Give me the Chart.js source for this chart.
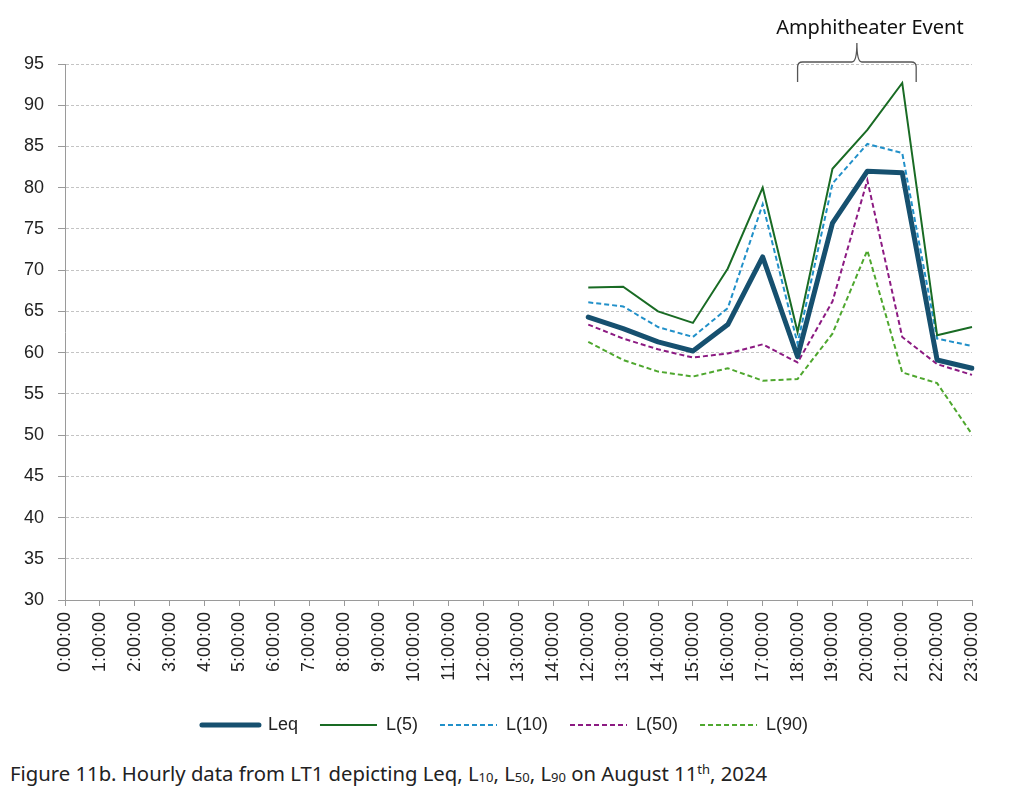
<!DOCTYPE html>
<html>
<head>
<meta charset="utf-8">
<script src="https://cdn.jsdelivr.net/npm/chart.js@4.4.1/dist/chart.umd.min.js"></script>
<style>
html, body { margin: 0; padding: 0; background: #fff; }
#wrap { position: absolute; left: 0; top: 0; width: 1030px; height: 744px; }
#caption { position: absolute; left: 10px; top: 759px; font-family: "Noto Sans"; font-size: 20.3px; color: #222; white-space: nowrap; }
#caption sub { font-size: 13px; vertical-align: -1px; }
#caption sup { font-size: 13px; vertical-align: 7px; }
</style>
</head>
<body>
<div id="wrap"><canvas id="myChart"></canvas></div>
<div id="caption">Figure 11b. Hourly data from LT1 depicting Leq, L<sub>10</sub>, L<sub>50</sub>, L<sub>90</sub> on August 11<sup>th</sup>, 2024</div>
<script>
// categories as printed on the x axis (the 12-14h labels appear twice in the original)
const hours = ['0:00:00','1:00:00','2:00:00','3:00:00','4:00:00','5:00:00','6:00:00','7:00:00',
  '8:00:00','9:00:00','10:00:00','11:00:00','12:00:00','13:00:00','14:00:00',
  '12:00:00','13:00:00','14:00:00','15:00:00','16:00:00','17:00:00','18:00:00',
  '19:00:00','20:00:00','21:00:00','22:00:00','23:00:00'];

const empty = [null,null,null,null,null,null,null,null,null,null,null,null,null,null,null];
const leq = empty.concat([64.3, 62.9, 61.3, 60.2, 63.4, 71.6, 59.5, 75.7, 82.0, 81.8, 59.1, 58.1]);
const l5  = empty.concat([67.9, 68.0, 65.0, 63.6, 70.2, 80.0, 62.5, 82.3, 87.0, 92.7, 62.1, 63.1]);
const l10 = empty.concat([66.1, 65.6, 63.1, 61.9, 65.4, 78.0, 61.1, 80.5, 85.3, 84.2, 61.7, 60.8]);
const l50 = empty.concat([63.4, 61.7, 60.4, 59.4, 59.9, 61.0, 58.8, 66.2, 80.9, 61.9, 58.6, 57.3]);
const l90 = empty.concat([61.3, 59.1, 57.7, 57.1, 58.1, 56.6, 56.8, 62.3, 72.4, 57.6, 56.3, 50.1]);

const yTicks = { min: 30, max: 95, step: 5 };

// brace + label over the amphitheater event hours
const eventNote = {
  id: 'eventNote',
  afterLayout(chart) {
    // legend in the original sits a bit right of the canvas centre
    chart.legend.left += 19;
    chart.legend.right += 19;
  },
  afterDraw(chart) {
    const c = chart.ctx;
    const x = chart.scales.x;
    const top = chart.chartArea.top;
    const step = x.getPixelForValue(22) - x.getPixelForValue(21);
    const x0 = x.getPixelForValue(21);
    const x1 = x.getPixelForValue(24) + step * 0.4;
    const mid = (x0 + x1) / 2;
    const yb = top - 2, yEnd = top + 18, yTip = top - 21;
    c.save();
    c.strokeStyle = '#555';
    c.lineWidth = 1.3;
    c.beginPath();
    c.moveTo(x0, yEnd);
    c.lineTo(x0, yb + 5);
    c.quadraticCurveTo(x0, yb, x0 + 5, yb);
    c.lineTo(mid - 5, yb);
    c.quadraticCurveTo(mid, yb, mid, yTip);
    c.quadraticCurveTo(mid, yb, mid + 5, yb);
    c.lineTo(x1 - 5, yb);
    c.quadraticCurveTo(x1, yb, x1, yb + 5);
    c.lineTo(x1, yEnd);
    c.stroke();
    c.fillStyle = '#111';
    c.font = '20px "Noto Sans"';
    c.textAlign = 'center';
    c.textBaseline = 'alphabetic';
    c.fillText('Amphitheater Event', mid + 13, top - 30);
    c.restore();
  }
};

const ctx = document.getElementById('myChart');

new Chart(ctx, {
  type: 'line',
  data: {
    labels: hours,
    datasets: [
      { label: 'Leq', data: leq, borderColor: '#16506f', borderWidth: 5, borderCapStyle: 'round', borderJoinStyle: 'round' },
      { label: 'L(5)', data: l5, borderColor: '#196b24', borderWidth: 2 },
      { label: 'L(10)', data: l10, borderColor: '#2190c9', borderWidth: 2, borderDash: [5, 3] },
      { label: 'L(50)', data: l50, borderColor: '#8c1a82', borderWidth: 2, borderDash: [5, 3] },
      { label: 'L(90)', data: l90, borderColor: '#4ea72e', borderWidth: 2, borderDash: [5, 3] }
    ]
  },
  options: {
    responsive: true,
    maintainAspectRatio: false,
    animation: false,
    elements: { point: { radius: 0 }, line: { tension: 0, fill: false } },
    layout: { padding: { left: 0, right: 58, top: 64, bottom: 0 } },
    scales: {
      x: {
        offset: false,
        ticks: {
          autoSkip: false, minRotation: 90, maxRotation: 90, padding: 6,
          color: '#222', font: { family: 'Liberation Sans', size: 18 }
        },
        grid: { drawOnChartArea: false, drawTicks: true, tickLength: 6, color: '#9a9a9a' },
        border: { color: '#9a9a9a' },
        afterFit(s) { s.height = 94; }
      },
      y: {
        min: yTicks.min, max: yTicks.max,
        ticks: { stepSize: yTicks.step, padding: 14, color: '#222', font: { family: 'Liberation Sans', size: 18 } },
        grid: { color: '#c4c4c4', tickLength: 7, tickColor: '#9a9a9a' },
        border: { color: '#9a9a9a', dash: [3, 2] },
        afterFit(s) { s.width = 65; }
      }
    },
    plugins: {
      legend: {
        position: 'bottom',
        labels: {
          usePointStyle: true, pointStyle: 'line', pointStyleWidth: 57,
          padding: 22, color: '#222', font: { family: 'Liberation Sans', size: 18 },
          generateLabels(chart) {
            const items = Chart.defaults.plugins.legend.labels.generateLabels(chart);
            items.forEach((it, i) => {
              const ds = chart.data.datasets[i];
              it.lineDash = ds.borderDash || [];
              it.lineWidth = ds.borderWidth;
              it.strokeStyle = ds.borderColor;
              it.lineCap = ds.borderCapStyle || 'butt';
            });
            return items;
          }
        }
      },
      tooltip: { enabled: false }
    }
  },
  plugins: [eventNote]
});
</script>
</body>
</html>
